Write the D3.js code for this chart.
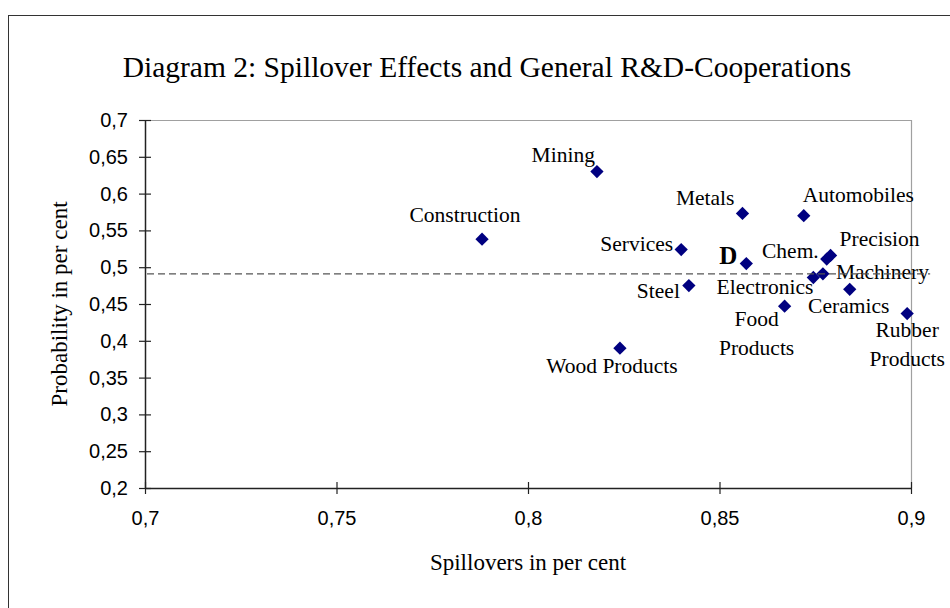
<!DOCTYPE html>
<html>
<head>
<meta charset="utf-8">
<script src="https://cdn.jsdelivr.net/npm/d3@7"></script>
<style>
  html, body { margin: 0; padding: 0; background: #fff; }
  svg { display: block; }
</style>
</head>
<body>
<svg id="chart" width="950" height="608"></svg>
<script>
//*************************************************
// Data
//*************************************************
var sectors = ['Mining', 'Construction', 'Services', 'Steel', 'Wood Products', 'Metals',
    'Automobiles', 'D', 'Precision', 'Chem.', 'Machinery', 'Electronics', 'Ceramics',
    'Food Products', 'Rubber Products'];
var spillovers = [0.818, 0.788, 0.840, 0.842, 0.824, 0.856, 0.872, 0.857, 0.879, 0.878,
    0.877, 0.8745, 0.884, 0.867, 0.899];
var probability = [0.630, 0.538, 0.524, 0.475, 0.390, 0.573, 0.570, 0.505, 0.516, 0.511,
    0.491, 0.486, 0.470, 0.447, 0.437];
var averageProbability = 0.491;
var averageSpan = [0.7, 0.905];
var xTicks = [0.7, 0.75, 0.8, 0.85, 0.9];
var yTicks = [0.2, 0.25, 0.3, 0.35, 0.4, 0.45, 0.5, 0.55, 0.6, 0.65, 0.7];

//*************************************************
// Layout
//*************************************************
var _plot = { left: 145, right: 911, top: 120, bottom: 488 };
var _serif = 'Liberation Serif, Times New Roman, serif';
var _sans = 'Liberation Sans, Arial, sans-serif';
var _markerColor = '#000080';

// label placement relative to each marker: anchor, dx, dy (one dy per line)
var labelLayout = {
    'Mining':          { anchor: 'end',    dx: -2,  dy: [-10] },
    'Construction':    { anchor: 'middle', dx: -17, dy: [-17] },
    'Services':        { anchor: 'end',    dx: -8,  dy: [1] },
    'Steel':           { anchor: 'end',    dx: -9,  dy: [12] },
    'Wood Products':   { anchor: 'middle', dx: -8,  dy: [25] },
    'Metals':          { anchor: 'end',    dx: -8,  dy: [-8] },
    'Automobiles':     { anchor: 'start',  dx: -1,  dy: [-14] },
    'D':               { anchor: 'end',    dx: -9,  dy: [0], bold: true },
    'Precision':       { anchor: 'start',  dx: 9,   dy: [-9] },
    'Chem.':           { anchor: 'end',    dx: -8,  dy: [-1] },
    'Machinery':       { anchor: 'start',  dx: 13,  dy: [5] },
    'Electronics':     { anchor: 'end',    dx: 0,   dy: [16] },
    'Ceramics':        { anchor: 'middle', dx: -1,  dy: [24] },
    'Food Products':   { anchor: 'middle', dx: -28, dy: [20, 48.5], lines: ['Food', 'Products'] },
    'Rubber Products': { anchor: 'middle', dx: 0,   dy: [23, 52.5], lines: ['Rubber', 'Products'] }
};

var points = sectors.map(function (name, i){
    return { name: name, x: spillovers[i], y: probability[i] };
});

var svg = d3.select('#chart');
var fmt = function (v){ return d3.format('~g')(v).replace('.', ','); };

// outer chart frame
svg.append('rect')
    .attr('x', 8.5).attr('y', 15.5)
    .attr('width', 1000).attr('height', 1000)
    .attr('fill', '#fff').attr('stroke', '#333').attr('stroke-width', 1);

var x = d3.scaleLinear().domain([0.7, 0.9]).range([_plot.left, _plot.right]);
var y = d3.scaleLinear().domain([0.2, 0.7]).range([_plot.bottom, _plot.top]);

// plot area border (top/right in grey)
svg.append('path')
    .attr('d', 'M' + _plot.left + ',' + (_plot.top + 0.5) + 'H' + (_plot.right + 0.5) + 'V' + _plot.bottom)
    .attr('fill', 'none').attr('stroke', '#a0a0a0').attr('stroke-width', 1.2);

//----------------------------------------------------------------------------------
// Axes with crossing tick marks
//----------------------------------------------------------------------------------
var yAxis = svg.append('g')
    .attr('transform', 'translate(' + _plot.left + ',0)')
    .call(d3.axisLeft(y).tickValues(yTicks).tickFormat(fmt).tickSizeInner(6).tickSizeOuter(0).tickPadding(11));
yAxis.selectAll('.tick line').attr('x1', 6);

var xAxis = svg.append('g')
    .attr('transform', 'translate(0,' + _plot.bottom + ')')
    .call(d3.axisBottom(x).tickValues(xTicks).tickFormat(fmt).tickSizeInner(6).tickSizeOuter(0).tickPadding(17));
xAxis.selectAll('.tick line').attr('y1', -6);

[xAxis, yAxis].forEach(function (a){
    a.select('.domain').attr('stroke', '#222').attr('stroke-width', 1.5);
    a.selectAll('.tick line').attr('stroke', '#222').attr('stroke-width', 1.2);
    a.selectAll('text').attr('font-family', _sans).attr('font-size', 20).attr('fill', '#000');
});

//----------------------------------------------------------------------------------
// Titles
//----------------------------------------------------------------------------------
svg.append('text')
    .attr('x', 487).attr('y', 77)
    .attr('text-anchor', 'middle')
    .attr('font-family', _serif).attr('font-size', 29.5)
    .text('Diagram 2: Spillover Effects and General R&D-Cooperations');

svg.append('text')
    .attr('x', (_plot.left + _plot.right) / 2).attr('y', 570)
    .attr('text-anchor', 'middle')
    .attr('font-family', _serif).attr('font-size', 23)
    .text('Spillovers in per cent');

svg.append('text')
    .attr('transform', 'translate(67,' + ((_plot.top + _plot.bottom) / 2) + ') rotate(-90)')
    .attr('text-anchor', 'middle')
    .attr('font-family', _serif).attr('font-size', 23)
    .text('Probability in per cent');

//----------------------------------------------------------------------------------
// Markers
//----------------------------------------------------------------------------------
var diamond = d3.symbol().type(d3.symbolSquare).size(88);
svg.append('g').selectAll('path')
    .data(points)
    .enter().append('path')
    .attr('d', diamond)
    .attr('transform', function (d){ return 'translate(' + x(d.x) + ',' + y(d.y) + ') rotate(45)'; })
    .attr('fill', _markerColor);

//----------------------------------------------------------------------------------
// Labels
//----------------------------------------------------------------------------------
var labels = svg.append('g').selectAll('text')
    .data(points)
    .enter().append('text')
    .attr('font-family', _serif)
    .attr('font-size', function (d){ return labelLayout[d.name].bold ? 25 : 21.5; })
    .attr('font-weight', function (d){ return labelLayout[d.name].bold ? 'bold' : 'normal'; })
    .attr('text-anchor', function (d){ return labelLayout[d.name].anchor; });

labels.each(function (d){
    var l = labelLayout[d.name];
    var lines = l.lines || [d.name];
    var t = d3.select(this);
    lines.forEach(function (line, k){
        t.append('tspan')
            .attr('x', x(d.x) + l.dx)
            .attr('y', y(d.y) + l.dy[k])
            .text(line);
    });
});

//----------------------------------------------------------------------------------
// Average line (dashed)
//----------------------------------------------------------------------------------
svg.append('line')
    .attr('x1', x(averageSpan[0]) + 2).attr('x2', x(averageSpan[1]))
    .attr('y1', y(averageProbability)).attr('y2', y(averageProbability))
    .attr('stroke', '#555').attr('stroke-width', 1.3)
    .attr('stroke-dasharray', '7,4');
</script>
</body>
</html>
